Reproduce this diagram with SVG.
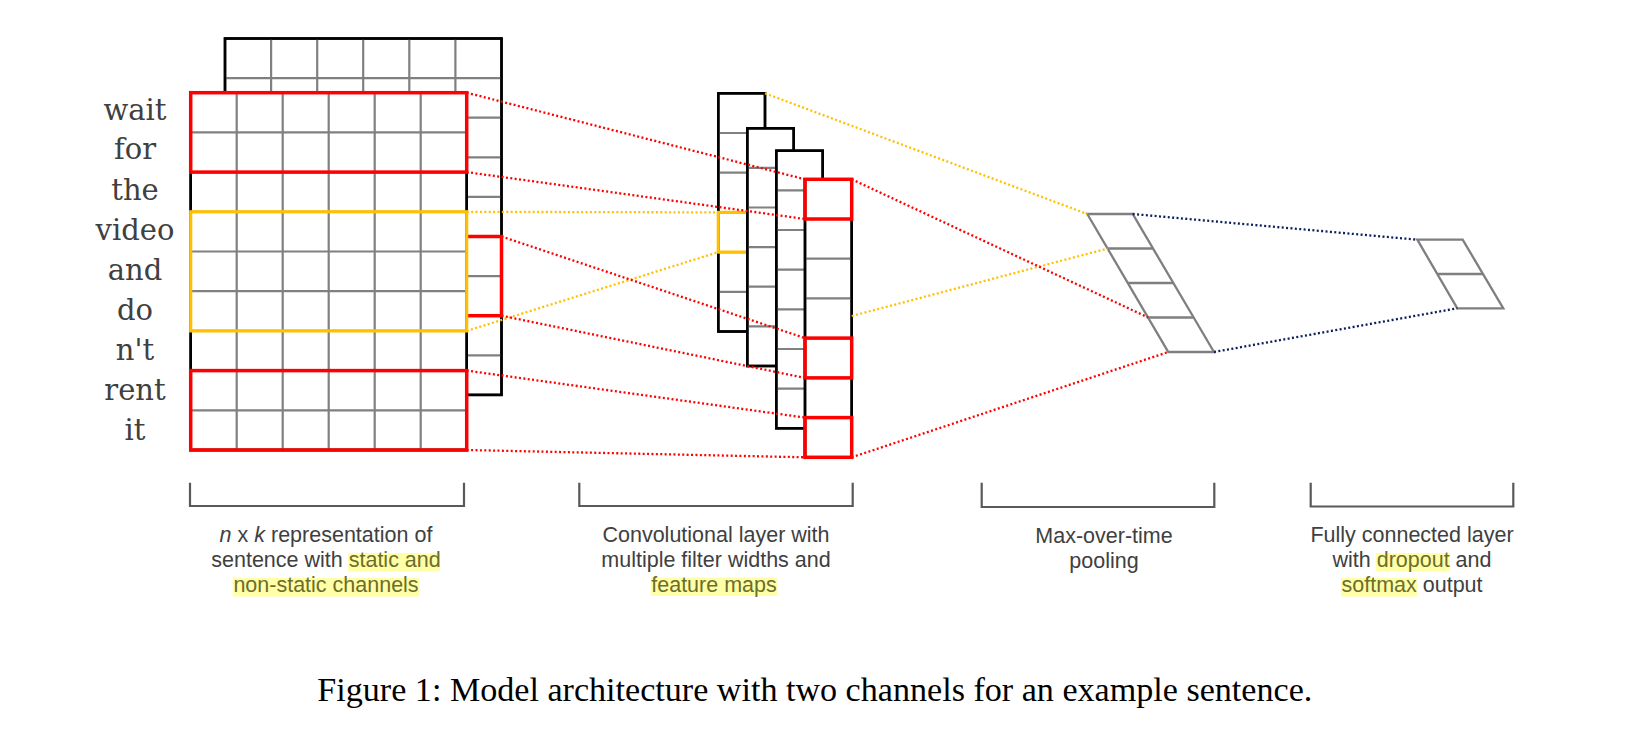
<svg xmlns="http://www.w3.org/2000/svg" width="1631" height="751" viewBox="0 0 1631 751">
<style>
.bg{fill:#fff}
.outer{fill:#fff;stroke:#000;stroke-width:2.5}
.grid{stroke:#808080;stroke-width:2.2;fill:none}
.redbox{fill:none;stroke:#ff0000;stroke-width:3.5}
.yelbox{fill:none;stroke:#ffc000;stroke-width:3.2}
.gshape{fill:none;stroke:#7f7f7f;stroke-width:2.3;stroke-linejoin:miter}
.dr{stroke:#ff0000;stroke-width:2.3;stroke-dasharray:2 2.4;fill:none}
.dy{stroke:#ffc000;stroke-width:2.3;stroke-dasharray:2 2.4;fill:none}
.dn{stroke:#0b1f5c;stroke-width:2.3;stroke-dasharray:2 2.4;fill:none}
.word{font-family:"DejaVu Serif","Liberation Serif",serif;font-size:29px;fill:#404040;text-anchor:middle}
.lbl{font-family:"Liberation Sans",Arial,sans-serif;font-size:21.5px;fill:#404040}
.mid{text-anchor:middle}
.hl{fill:#ffffa8}
.ht{fill:#6d6d2a}
.brk{fill:none;stroke:#595959;stroke-width:2.2}
.cap{font-family:"Liberation Serif","Times New Roman",serif;font-size:34px;fill:#000}
</style>
<rect class="bg" x="0" y="0" width="1631" height="751"/>

<g id="matrix-back">
<rect class="outer" x="225" y="38.5" width="276.5" height="356.4"/>
<path class="grid" d="M271.1 38.5V394.9M317.2 38.5V394.9M363.2 38.5V394.9M409.3 38.5V394.9M455.4 38.5V394.9M225 78.1H501.5M225 117.7H501.5M225 157.3H501.5M225 196.9H501.5M225 236.5H501.5M225 276.1H501.5M225 315.7H501.5M225 355.3H501.5"/>
<rect class="outer" x="225" y="38.5" width="276.5" height="356.4" style="fill:none"/>
<rect class="redbox" x="455.4" y="236.5" width="46.1" height="79.2"/>
</g>

<g id="matrix-front">
<rect class="outer" x="190.7" y="92.7" width="276" height="357.3"/>
<path class="grid" d="M236.7 92.7V450M282.7 92.7V450M328.7 92.7V450M374.7 92.7V450M420.7 92.7V450M190.7 132.4H466.7M190.7 172.1H466.7M190.7 211.8H466.7M190.7 251.5H466.7M190.7 291.2H466.7M190.7 330.9H466.7M190.7 370.6H466.7M190.7 410.3H466.7"/>
<rect class="outer" x="190.7" y="92.7" width="276" height="357.3" style="fill:none"/>
<rect class="redbox" x="190.7" y="92.7" width="276" height="79.4"/>
<rect class="yelbox" x="190.7" y="211.8" width="276" height="119.1"/>
<rect class="redbox" x="190.7" y="370.6" width="276" height="79.4"/>
</g>

<g id="words">
<text class="word" x="135" y="119.5">wait</text>
<text class="word" x="135" y="158.5">for</text>
<text class="word" x="135" y="199.5">the</text>
<text class="word" x="135" y="239.5">video</text>
<text class="word" x="135" y="279.5">and</text>
<text class="word" x="135" y="319.5">do</text>
<text class="word" x="135" y="359.5">n't</text>
<text class="word" x="135" y="400">rent</text>
<text class="word" x="135" y="440">it</text>
</g>

<g id="feature-map-1">
<rect class="outer" x="718.3" y="93.3" width="46.7" height="238.2"/>
<path class="grid" d="M718.3 133H765M718.3 172.7H765M718.3 212.4H765M718.3 252.1H765M718.3 291.8H765"/>
<rect class="outer" x="718.3" y="93.3" width="46.7" height="238.2" style="fill:none"/>
<rect class="yelbox" x="718.3" y="212.4" width="46.7" height="39.7"/>
</g>
<g id="feature-map-2">
<rect class="outer" x="747.3" y="128.3" width="46.4" height="237.7"/>
<path class="grid" d="M747.3 167.9H793.7M747.3 207.5H793.7M747.3 247.1H793.7M747.3 286.7H793.7M747.3 326.3H793.7"/>
<rect class="outer" x="747.3" y="128.3" width="46.4" height="237.7" style="fill:none"/>
</g>
<g id="feature-map-3">
<rect class="outer" x="776.3" y="150.7" width="46.4" height="277.6"/>
<path class="grid" d="M776.3 190.4H822.7M776.3 230H822.7M776.3 269.7H822.7M776.3 309.3H822.7M776.3 349H822.7M776.3 388.6H822.7"/>
<rect class="outer" x="776.3" y="150.7" width="46.4" height="277.6" style="fill:none"/>
</g>
<g id="feature-map-4">
<rect class="outer" x="805" y="179.3" width="46.7" height="278"/>
<path class="grid" d="M805 219H851.7M805 258.7H851.7M805 298.4H851.7M805 338.1H851.7M805 377.9H851.7M805 417.6H851.7"/>
<rect class="outer" x="805" y="179.3" width="46.7" height="278" style="fill:none"/>
<rect class="redbox" x="805" y="179.3" width="46.7" height="39.7"/>
<rect class="redbox" x="805" y="338.1" width="46.7" height="39.8"/>
<rect class="redbox" x="805" y="417.6" width="46.7" height="39.7"/>
</g>

<g id="pooling">
<path class="gshape" d="M1087.3 214H1132.7L1214 352H1168.3Z"/>
<path class="gshape" d="M1107.6 248.5H1153M1127.9 283H1173.3M1148.2 317.5H1193.6"/>
</g>

<g id="output">
<path class="gshape" d="M1417.3 239.7H1462.7L1503.3 308.3H1457.3Z"/>
<path class="gshape" d="M1437.3 274H1483"/>
</g>

<g id="connectors">
<line class="dr" x1="466.7" y1="92.7" x2="805" y2="179.3"/>
<line class="dr" x1="466.7" y1="172.1" x2="805" y2="219"/>
<line class="dy" x1="466.7" y1="211.8" x2="718.3" y2="212.4"/>
<line class="dy" x1="466.7" y1="330.9" x2="718.3" y2="252.1"/>
<line class="dr" x1="501.5" y1="236.5" x2="805" y2="338.1"/>
<line class="dr" x1="501.5" y1="315.7" x2="805" y2="377.9"/>
<line class="dr" x1="466.7" y1="370.6" x2="805" y2="417.6"/>
<line class="dr" x1="466.7" y1="450" x2="805" y2="457.3"/>
<line class="dy" x1="765" y1="93.3" x2="1087.3" y2="214"/>
<line class="dy" x1="851.7" y1="316" x2="1107.6" y2="248.5"/>
<line class="dr" x1="851.7" y1="179.3" x2="1148.2" y2="317.5"/>
<line class="dr" x1="851.7" y1="457.3" x2="1168.3" y2="352"/>
<line class="dn" x1="1132.7" y1="214" x2="1417.3" y2="239.7"/>
<line class="dn" x1="1214" y1="352" x2="1457.3" y2="308.3"/>
</g>

<g id="label-input">
<path class="brk" d="M190 482.7V506H464V482.7"/>
<rect class="hl" x="348.3" y="553" width="91.7" height="18.5"/>
<rect class="hl" x="232.7" y="578" width="186.6" height="18.5"/>
<text class="lbl mid" x="326" y="542"><tspan font-style="italic">n</tspan> x <tspan font-style="italic">k</tspan> representation of</text>
<text class="lbl mid" x="326" y="567">sentence with <tspan class="ht">static and</tspan></text>
<text class="lbl mid ht" x="326" y="592">non-static channels</text>
</g>

<g id="label-conv">
<path class="brk" d="M579.3 482.7V506H852.7V482.7"/>
<rect class="hl" x="650.7" y="577.5" width="126.6" height="18.5"/>
<text class="lbl mid" x="716" y="542">Convolutional layer with</text>
<text class="lbl mid" x="716" y="567">multiple filter widths and</text>
<text class="lbl mid ht" x="714" y="592">feature maps</text>
</g>

<g id="label-pool">
<path class="brk" d="M981.7 482.7V507H1214.3V482.7"/>
<text class="lbl mid" x="1104" y="543">Max-over-time</text>
<text class="lbl mid" x="1104" y="568">pooling</text>
</g>

<g id="label-fc">
<path class="brk" d="M1310.7 482.7V506.5H1513.3V482.7"/>
<rect class="hl" x="1376" y="553" width="74" height="18.5"/>
<rect class="hl" x="1341" y="578" width="76" height="18.5"/>
<text class="lbl mid" x="1412" y="542">Fully connected layer</text>
<text class="lbl mid" x="1412" y="567">with <tspan class="ht">dropout</tspan> and</text>
<text class="lbl mid" x="1412" y="592"><tspan class="ht">softmax</tspan> output</text>
</g>

<text class="cap" x="317.3" y="701" textLength="995" lengthAdjust="spacingAndGlyphs">Figure 1: Model architecture with two channels for an example sentence.</text>
</svg>
